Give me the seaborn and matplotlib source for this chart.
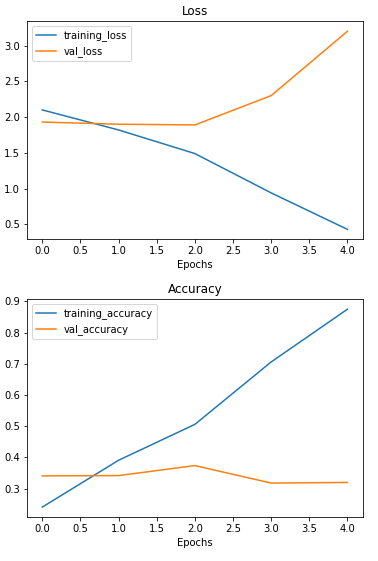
import matplotlib
matplotlib.use("Agg")
import matplotlib.pyplot as plt
import seaborn as sns
import pandas as pd

# Training history
epochs = [0, 1, 2, 3, 4]
training_loss = [2.10, 1.82, 1.49, 0.94, 0.43]
val_loss = [1.93, 1.90, 1.89, 2.30, 3.20]
training_accuracy = [0.241, 0.391, 0.506, 0.706, 0.875]
val_accuracy = [0.341, 0.342, 0.374, 0.318, 0.320]

loss_df = pd.DataFrame({"epoch": epochs * 2,
                        "value": training_loss + val_loss,
                        "metric": ["training_loss"] * 5 + ["val_loss"] * 5})
acc_df = pd.DataFrame({"epoch": epochs * 2,
                       "value": training_accuracy + val_accuracy,
                       "metric": ["training_accuracy"] * 5 + ["val_accuracy"] * 5})

fig = plt.figure(figsize=(378 / 72, 561 / 72), dpi=72)
ax1 = fig.add_axes([27 / 378, 1 - 239.3 / 561, (362.7 - 27) / 378, (239.3 - 21.3) / 561])
ax2 = fig.add_axes([27 / 378, 1 - 517 / 561, (362.7 - 27) / 378, (517 - 299.3) / 561])

palette = ["#1f77b4", "#ff7f0e"]

# Loss
sns.lineplot(data=loss_df, x="epoch", y="value", hue="metric", palette=palette, ax=ax1)
ax1.set_title("Loss")
ax1.set_xlabel("Epochs")
ax1.set_ylabel("")
ax1.legend(loc="upper left")

# Accuracy
sns.lineplot(data=acc_df, x="epoch", y="value", hue="metric", palette=palette, ax=ax2)
ax2.set_title("Accuracy")
ax2.set_xlabel("Epochs")
ax2.set_ylabel("")
ax2.legend(loc="upper left")

fig.savefig("out.png", dpi=72)
